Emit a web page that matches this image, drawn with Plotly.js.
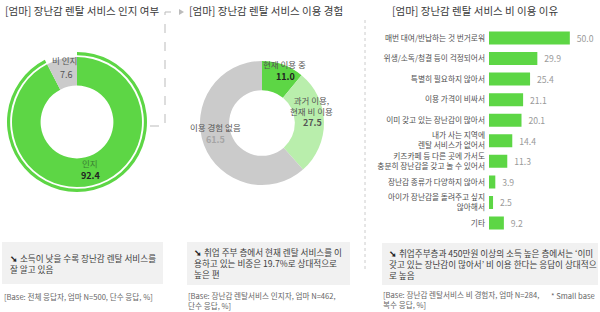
<!DOCTYPE html>
<html><head><meta charset="utf-8">
<script src="https://cdn.plot.ly/plotly-3.0.1.min.js"></script>
<style>html,body{margin:0;padding:0;background:#fff}#c{width:600px;height:312px}</style>
</head><body><div id="c"></div>
<script>
// ---- data ----
const awareLabels = ['인지', '비 인지'];
const awareValues = [92.4, 7.6];

const useLabels = ['현재 이용 중', '과거 이용,<br>현재 비 이용', '이용 경험 없음'];
const useValues = [11.0, 27.5, 61.5];

const reasonLabels = [
  '매번 대여/반납하는 것 번거로워',
  '위생/소독/청결 등이 걱정되어서',
  '특별히 필요하지 않아서',
  '이용 가격이 비싸서',
  '이미 갖고 있는 장난감이 많아서',
  '내가 사는 지역에<br>렌탈 서비스가 없어서',
  '키즈카페 등 다른 곳에 가서도<br>충분히 장난감을 갖고 놀 수 있어서',
  '장난감 종류가 다양하지 않아서',
  '아이가 장난감을 돌려주고 싶지<br>않아해서',
  '기타'
];
const reasonValues = [50.0, 29.9, 25.4, 21.1, 20.1, 14.4, 11.3, 3.9, 2.5, 9.2];

const titles = ['[엄마] 장난감 렌탈 서비스 인지 여부', '[엄마] 장난감 렌탈 서비스 이용 경험', '[엄마] 장난감 렌탈 서비스 비 이용 이유'];
const notes = [
  ['소득이 낮을 수록 장난감 렌탈 서비스를', '잘 알고 있음'],
  ['취업 주부 층에서 현재 렌탈 서비스를 이', '용하고 있는 비중은 19.7%로 상대적으로', '높은 편'],
  ['취업주부층과 450만원 이상의 소득 높은 층에서는 ‘이미', '갖고 있는 장난감이 많아서’ 비 이용 한다는 응답이 상대적으', '로 높음']
];
const bases = [
  ['[Base: 전체 응답자, 엄마 N=500, 단수 응답, %]'],
  ['[Base: 장난감 렌탈서비스 인지자, 엄마 N=462,', '단수 응답, %]'],
  ['[Base: 장난감 렌탈서비스 비 경험자, 엄마 N=284,', '복수 응답, %]']
];
const smallBase = '* Small base';
const ARROW = '➘';

// ---- helpers ----
const W = 600, H = 312;
const X = p => p / W;
const Y = p => 1 - p / H;
const FONT = '"Noto Sans CJK KR", "Noto Sans", sans-serif';
const GREEN = '#5dd645', LIGHT = '#b9eeac', GREY = '#cbcbcb';

function dom(cx, cy, r) { return {x: [X(cx - r), X(cx + r)], y: [Y(cy + r), Y(cy - r)]}; }

const traces = [
  {type: 'pie', values: awareValues, labels: awareLabels, sort: false, direction: 'clockwise',
   hole: 0.955, domain: dom(77, 122, 70), textinfo: 'none', hoverinfo: 'skip', showlegend: false,
   marker: {colors: [GREEN, 'rgba(0,0,0,0)'], line: {width: 0}}},
  {type: 'pie', values: awareValues, labels: awareLabels, sort: false, direction: 'clockwise',
   hole: 0.56, domain: dom(77, 122, 65), textinfo: 'none', hoverinfo: 'skip', showlegend: false,
   marker: {colors: [GREEN, GREY], line: {width: 0}}},
  {type: 'pie', values: useValues, labels: useLabels, sort: false, direction: 'clockwise',
   hole: 0.53, domain: dom(262, 123, 62), textinfo: 'none', hoverinfo: 'skip', showlegend: false,
   marker: {colors: [GREEN, LIGHT, GREY], line: {width: 0}}},
  {type: 'bar', orientation: 'h', x: reasonValues, y: reasonLabels, xaxis: 'x', yaxis: 'y',
   marker: {color: GREEN}, width: 0.63, text: reasonValues.map(v => '  ' + v.toFixed(1)),
   textposition: 'outside', cliponaxis: false, textfont: {size: 10, color: '#9a9a9a', family: FONT},
   hoverinfo: 'skip', showlegend: false}
];

const ann = [];
function A(text, x, y, o) {
  ann.push(Object.assign({text, x: X(x), y: Y(y), xref: 'paper', yref: 'paper', showarrow: false,
    xanchor: 'center', yanchor: 'middle', font: {family: FONT, size: 8.5, color: '#555'}}, o || {}));
}
// titles
const tFont = {family: FONT, size: 10.5, color: '#3a3a3a'};
A(titles[0], 3, 11, {xanchor: 'left', font: tFont});
A(titles[1], 187, 11, {xanchor: 'left', font: tFont});
A(titles[2], 390, 11, {xanchor: 'left', font: tFont});
// donut 1 labels
A(awareLabels[1], 64, 60);
A(awareValues[1].toFixed(1), 66, 74, {font: {family: FONT, size: 9, color: '#555'}});
A(awareLabels[0], 90, 163, {font: {family: FONT, size: 8.5, color: '#3b7d33'}});
A('<b>' + awareValues[0].toFixed(1) + '</b>', 91, 175, {font: {family: FONT, size: 9, color: '#222'}});
// donut 2 labels
A(useLabels[0], 284, 64);
A('<b>' + useValues[0].toFixed(1) + '</b>', 285, 76, {font: {family: FONT, size: 9, color: '#222'}});
A(useLabels[1], 311, 105, {font: {family: FONT, size: 8.5, color: '#555'}});
A('<b>' + useValues[1].toFixed(1) + '</b>', 313, 123, {font: {family: FONT, size: 9, color: '#555'}});
A(useLabels[2], 215, 126.5);
A('<b>' + useValues[2].toFixed(1) + '</b>', 215, 139, {font: {family: FONT, size: 9, color: '#a5a5a5'}});
// notes (one multi-line annotation each)
const noteFont = {family: FONT, size: 8.6, color: '#404040'};
function note(lines, x, yc) {
  const t = '<b><span style="color:#222">' + ARROW + '</span></b> ' + lines.join('<br>');
  A(t, x, yc, {xanchor: 'left', align: 'left', font: noteFont});
}
note(notes[0], 8, 263.5);
note(notes[1], 192, 263);
note(notes[2], 387, 263.5);
const baseFont = {family: FONT, size: 7.6, color: '#666'};
function base(lines, x, yc) {
  A(lines.join('<br>'), x, yc, {xanchor: 'left', align: 'left', font: baseFont});
}
base(bases[0], 2, 296);
base(bases[1], 186, 300.5);
base(bases[2], 381, 299.5);
A(smallBase, 597, 295, {xanchor: 'right', font: baseFont});

const shapes = [
  {type: 'rect', xref: 'paper', yref: 'paper', x0: X(2), x1: X(163), y0: Y(284), y1: Y(242), fillcolor: '#f1f1f1', line: {width: 0}, layer: 'below'},
  {type: 'rect', xref: 'paper', yref: 'paper', x0: X(187), x1: X(350), y0: Y(285), y1: Y(242), fillcolor: '#f1f1f1', line: {width: 0}, layer: 'below'},
  {type: 'rect', xref: 'paper', yref: 'paper', x0: X(382), x1: X(598), y0: Y(285), y1: Y(243), fillcolor: '#f1f1f1', line: {width: 0}, layer: 'below'},
  {type: 'line', xref: 'paper', yref: 'paper', x0: X(365), x1: X(365), y0: Y(20), y1: Y(270), line: {color: '#cccccc', width: 1, dash: 'dot'}},
  {type: 'path', xref: 'paper', yref: 'paper',
   path: `M ${X(150)} ${Y(126)} L ${X(165)} ${Y(126)} L ${X(165)} ${Y(12)} L ${X(178)} ${Y(12)}`,
   line: {color: '#bbbbbb', width: 1, dash: 'dash'}},
  {type: 'path', xref: 'paper', yref: 'paper',
   path: `M ${X(179)} ${Y(9)} L ${X(184)} ${Y(12)} L ${X(179)} ${Y(15)} Z`,
   fillcolor: '#bbbbbb', line: {width: 0}}
];

const layout = {
  width: W, height: H, margin: {l: 0, r: 0, t: 0, b: 0}, paper_bgcolor: '#fff', plot_bgcolor: 'rgba(0,0,0,0)',
  font: {family: FONT},
  showlegend: false,
  xaxis: {domain: [X(489), X(586)], range: [0, 60], visible: false, fixedrange: true},
  yaxis: {domain: [Y(233.3), Y(27.7)], type: 'category', autorange: 'reversed', showgrid: false, showline: false,
          zeroline: false, ticks: '', ticklabelstandoff: 3, tickfont: {family: FONT, size: 7.7, color: '#505050'}},
  annotations: ann, shapes: shapes
};
Plotly.newPlot('c', traces, layout, {staticPlot: true, displayModeBar: false});
</script></body></html>
